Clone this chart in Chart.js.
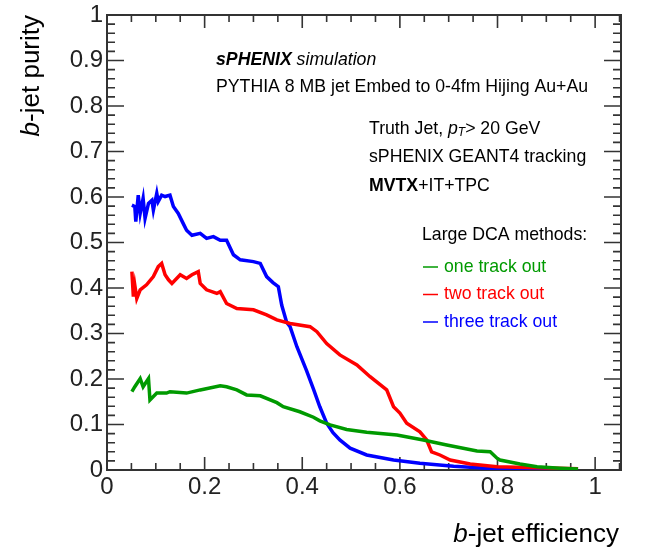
<!DOCTYPE html>
<html>
<head>
<meta charset="utf-8">
<script src="https://cdn.jsdelivr.net/npm/chart.js@4.4.0/dist/chart.umd.min.js"></script>
<style>
  body { margin: 0; background: #fff; }
  canvas { display: block; }
</style>
</head>
<body>
<canvas id="purityChart" width="646" height="550"></canvas>
<script>
// b-jet purity vs b-jet efficiency for the large DCA tagging methods

const seriesNames = ['one track out', 'two track out', 'three track out'];
const seriesColors = ['#009a00', '#ff0000', '#0000ff'];

const oneTrackEff = [0.051, 0.057, 0.068, 0.074, 0.085, 0.088, 0.102, 0.122, 0.129, 0.163, 0.191, 0.232, 0.245, 0.266, 0.286, 0.314, 0.348, 0.361, 0.395, 0.423, 0.436, 0.457, 0.491, 0.532, 0.594, 0.648, 0.696, 0.758, 0.785, 0.799, 0.805, 0.846, 0.881, 0.928, 0.965];
const oneTrackPur = [0.172, 0.183, 0.201, 0.183, 0.201, 0.154, 0.169, 0.169, 0.172, 0.169, 0.176, 0.185, 0.183, 0.176, 0.165, 0.163, 0.148, 0.139, 0.128, 0.116, 0.108, 0.099, 0.089, 0.083, 0.077, 0.066, 0.055, 0.042, 0.040, 0.026, 0.022, 0.013, 0.007, 0.004, 0.002];

const twoTrackEff = [0.051, 0.054, 0.057, 0.061, 0.068, 0.081, 0.095, 0.105, 0.112, 0.119, 0.126, 0.133, 0.150, 0.163, 0.174, 0.187, 0.191, 0.204, 0.225, 0.232, 0.245, 0.266, 0.300, 0.327, 0.348, 0.375, 0.416, 0.430, 0.450, 0.477, 0.512, 0.539, 0.573, 0.587, 0.600, 0.614, 0.641, 0.655, 0.665, 0.682, 0.703, 0.744, 0.799, 0.881, 0.965];
const twoTrackPur = [0.436, 0.381, 0.406, 0.377, 0.396, 0.407, 0.425, 0.447, 0.454, 0.429, 0.418, 0.410, 0.429, 0.421, 0.429, 0.436, 0.410, 0.396, 0.388, 0.392, 0.366, 0.355, 0.352, 0.341, 0.330, 0.322, 0.315, 0.304, 0.278, 0.253, 0.231, 0.205, 0.176, 0.139, 0.125, 0.103, 0.084, 0.066, 0.040, 0.033, 0.022, 0.013, 0.007, 0.005, 0.003];

const threeTrackEff = [0.051, 0.057, 0.059, 0.064, 0.068, 0.074, 0.078, 0.085, 0.092, 0.095, 0.102, 0.105, 0.112, 0.119, 0.129, 0.136, 0.146, 0.156, 0.163, 0.174, 0.191, 0.204, 0.218, 0.232, 0.245, 0.259, 0.273, 0.300, 0.314, 0.327, 0.340, 0.351, 0.358, 0.368, 0.375, 0.389, 0.409, 0.423, 0.436, 0.450, 0.463, 0.477, 0.498, 0.532, 0.587, 0.641, 0.710, 0.778, 0.870, 0.965];
const threeTrackPur = [0.582, 0.579, 0.546, 0.604, 0.564, 0.597, 0.553, 0.586, 0.593, 0.571, 0.608, 0.590, 0.604, 0.601, 0.604, 0.579, 0.564, 0.542, 0.527, 0.516, 0.520, 0.509, 0.513, 0.505, 0.505, 0.473, 0.462, 0.458, 0.454, 0.425, 0.412, 0.403, 0.362, 0.325, 0.315, 0.271, 0.218, 0.178, 0.139, 0.103, 0.082, 0.066, 0.048, 0.033, 0.022, 0.015, 0.008, 0.004, 0.003, 0.003];

const xTicks = [0, 0.2, 0.4, 0.6, 0.8, 1];
const yTicks = [0, 0.1, 0.2, 0.3, 0.4, 0.5, 0.6, 0.7, 0.8, 0.9, 1];

const FONT = '"Liberation Sans", Arial, Helvetica, sans-serif';

function toPoints(xs, ys) {
  return xs.map((x, i) => ({ x, y: ys[i] }));
}

const effs = [oneTrackEff, twoTrackEff, threeTrackEff];
const purs = [oneTrackPur, twoTrackPur, threeTrackPur];

const datasets = seriesNames.map((name, i) => ({
  label: name,
  data: toPoints(effs[i], purs[i]),
  borderColor: seriesColors[i],
  backgroundColor: seriesColors[i],
  borderWidth: 3.5,
  pointRadius: 0,
  tension: 0,
  showLine: true,
  fill: false
}));

// draw a row of text pieces with different fonts one after the other
function drawRuns(ctx, x, y, runs) {
  let cx = x;
  runs.forEach(r => {
    ctx.font = r.font;
    ctx.fillStyle = r.color || '#000';
    ctx.fillText(r.text, cx, y + (r.dy || 0));
    cx += ctx.measureText(r.text).width;
  });
}

// ROOT-like frame with inward ticks on all four sides
const framePlugin = {
  id: 'frame',
  beforeDatasetsDraw(chart) {
    const { ctx, chartArea: a, scales } = chart;
    const xs = scales.x, ys = scales.y;
    ctx.save();
    ctx.strokeStyle = '#333';
    ctx.lineWidth = 2;
    ctx.strokeRect(a.left, a.top, a.right - a.left, a.bottom - a.top);

    ctx.lineWidth = 1.6;
    ctx.beginPath();
    for (let i = 0; i <= 50; i++) {
      const py = ys.getPixelForValue(i * 0.02);
      const len = i % 5 === 0 ? 17 : 8;
      ctx.moveTo(a.left, py); ctx.lineTo(a.left + len, py);
      ctx.moveTo(a.right, py); ctx.lineTo(a.right - len, py);
    }
    for (let i = 0; i <= 21; i++) {
      const px = xs.getPixelForValue(i * 0.05);
      if (px > a.right - 1) continue;
      const len = i % 4 === 0 ? 13 : 7;
      ctx.moveTo(px, a.bottom); ctx.lineTo(px, a.bottom - len);
      ctx.moveTo(px, a.top); ctx.lineTo(px, a.top + len);
    }
    ctx.stroke();
    ctx.restore();
  },
  afterDraw(chart) {
    const { ctx, chartArea: a } = chart;
    ctx.save();
    ctx.textBaseline = 'middle';
    ctx.textAlign = 'left';

    // axis titles
    ctx.save();
    ctx.translate(32, a.top);
    ctx.rotate(-Math.PI / 2);
    const yTitle = [
      { text: 'b', font: 'italic 26px ' + FONT },
      { text: '-jet purity', font: '26px ' + FONT }
    ];
    ctx.font = yTitle[0].font;
    let w = ctx.measureText('b').width;
    ctx.font = yTitle[1].font;
    w += ctx.measureText('-jet purity').width;
    drawRuns(ctx, -w, 0, yTitle);
    ctx.restore();

    ctx.font = '26px ' + FONT;
    const xw2 = ctx.measureText('-jet efficiency').width;
    ctx.font = 'italic 26px ' + FONT;
    const xw1 = ctx.measureText('b').width;
    drawRuns(ctx, a.right - 2 - xw1 - xw2, 535, [
      { text: 'b', font: 'italic 26px ' + FONT },
      { text: '-jet efficiency', font: '26px ' + FONT }
    ]);

    // labels in the plot
    const f = '17.7px ' + FONT;
    drawRuns(ctx, 216, 60, [
      { text: 'sPHENIX', font: 'italic bold 17.7px ' + FONT },
      { text: ' simulation', font: 'italic ' + f }
    ]);
    drawRuns(ctx, 216, 87, [{ text: 'PYTHIA 8 MB jet Embed to 0-4fm Hijing Au+Au', font: f }]);
    drawRuns(ctx, 369, 129, [
      { text: 'Truth Jet, ', font: f },
      { text: 'p', font: 'italic ' + f },
      { text: 'T', font: 'italic 12px ' + FONT, dy: 4 },
      { text: '> 20 GeV', font: f }
    ]);
    drawRuns(ctx, 369, 157, [{ text: 'sPHENIX GEANT4 tracking', font: f }]);
    drawRuns(ctx, 369, 186, [
      { text: 'MVTX', font: 'bold ' + f },
      { text: '+IT+TPC', font: f }
    ]);
    drawRuns(ctx, 422, 235, [{ text: 'Large DCA methods:', font: f }]);

    // legend entries
    chart.data.datasets.forEach((ds, i) => {
      const ly = 267 + i * 27.5;
      ctx.strokeStyle = ds.borderColor;
      ctx.lineWidth = 1.5;
      ctx.beginPath();
      ctx.moveTo(423, ly);
      ctx.lineTo(438, ly);
      ctx.stroke();
      drawRuns(ctx, 444, ly, [{ text: ds.label, font: f, color: ds.borderColor }]);
    });
    ctx.restore();
  }
};

new Chart(document.getElementById('purityChart').getContext('2d'), {
  type: 'line',
  data: { datasets },
  options: {
    responsive: false,
    animation: false,
    layout: { padding: { top: 15, right: 25, left: 0, bottom: 0 } },
    plugins: {
      legend: { display: false },
      tooltip: { enabled: false }
    },
    scales: {
      x: {
        type: 'linear',
        min: 0,
        max: 1.053,
        grid: { display: false, drawTicks: false },
        border: { display: false },
        afterBuildTicks: s => { s.ticks = xTicks.map(value => ({ value })); },
        afterFit: s => { s.height = 80; s.paddingLeft = 0; s.paddingRight = 0; },
        ticks: {
          color: '#222',
          padding: 3,
          maxRotation: 0,
          autoSkip: false,
          font: { family: FONT, size: 24 },
          callback: v => String(v)
        }
      },
      y: {
        type: 'linear',
        min: 0,
        max: 1,
        grid: { display: false, drawTicks: false },
        border: { display: false },
        afterBuildTicks: s => { s.ticks = yTicks.map(value => ({ value })); },
        afterFit: s => { s.width = 107; s.paddingTop = 0; s.paddingBottom = 0; },
        ticks: {
          color: '#222',
          padding: 4,
          autoSkip: false,
          font: { family: FONT, size: 24 },
          callback: v => String(v)
        }
      }
    }
  },
  plugins: [framePlugin]
});
</script>
</body>
</html>
